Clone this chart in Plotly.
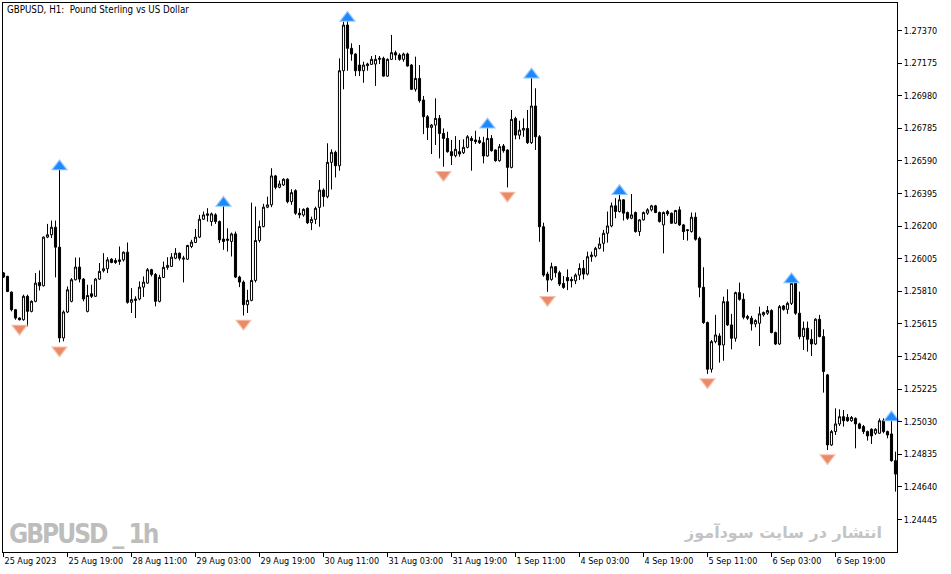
import plotly.graph_objects as go

# ---------------- data (GBPUSD H1) ----------------
open_ = [1.25920,1.25899,1.25805,1.25700,1.25650,1.25640,1.25780,1.25690,1.25750,1.25863,
1.25843,1.26134,1.26148,1.26193,1.26074,1.25531,1.25686,1.25750,1.25879,1.25955,
1.25883,1.25690,1.25795,1.25780,1.25883,1.25933,1.25945,1.26002,1.25994,1.25988,
1.25998,1.26044,1.25744,1.25764,1.25764,1.25835,1.25859,1.25939,1.25911,1.25750,
1.25893,1.25953,1.25959,1.26008,1.26038,1.26002,1.26002,1.26078,1.26102,1.26134,
1.26241,1.26273,1.26227,1.26267,1.26227,1.26122,1.26114,1.26108,1.26153,1.25895,
1.25865,1.25730,1.25756,1.25875,1.26114,1.26197,1.26313,1.26327,1.26500,1.26432,
1.26446,1.26480,1.26346,1.26412,1.26277,1.26266,1.26306,1.26220,1.26240,1.26312,
1.26415,1.26376,1.26581,1.26641,1.26561,1.27129,1.27402,1.27263,1.27229,1.27163,
1.27129,1.27159,1.27167,1.27169,1.27197,1.27203,1.27097,1.27197,1.27237,1.27223,
1.27197,1.27229,1.27163,1.27018,1.27083,1.26954,1.26854,1.26790,1.26804,1.26844,
1.26754,1.26724,1.26645,1.26621,1.26645,1.26639,1.26671,1.26724,1.26715,1.26711,
1.26699,1.26619,1.26724,1.26655,1.26591,1.26679,1.26655,1.26551,1.26844,1.26744,
1.26774,1.26784,1.26699,1.26918,1.26734,1.26196,1.25913,1.25881,1.25957,1.25921,
1.25857,1.25893,1.25881,1.25873,1.25907,1.25947,1.25913,1.26017,1.26021,1.26067,
1.26097,1.26157,1.26201,1.26321,1.26287,1.26357,1.26281,1.26247,1.26281,1.26167,
1.26237,1.26277,1.26297,1.26321,1.26281,1.26207,1.26287,1.26277,1.26217,1.26297,
1.26207,1.26173,1.26167,1.26253,1.26127,1.25834,1.25623,1.25344,1.25509,1.25543,
1.25489,1.25748,1.25609,1.25529,1.25802,1.25762,1.25659,1.25649,1.25615,1.25619,
1.25669,1.25679,1.25695,1.25563,1.25495,1.25722,1.25702,1.25738,1.25862,1.25679,
1.25539,1.25589,1.25523,1.25495,1.25643,1.25539,1.25310,1.24891,1.24971,1.25017,
1.25060,1.25056,1.25036,1.25050,1.25017,1.25001,1.24971,1.24985,1.24961,1.24961,
1.25036,1.24971,1.24957,1.24797]

high = [1.25925,1.25903,1.25809,1.25704,1.25654,1.25790,1.25790,1.25756,1.25919,1.25935,
1.26138,1.26213,1.26233,1.26233,1.26545,1.25696,1.25839,1.25889,1.26012,1.26012,
1.25889,1.25849,1.25849,1.25889,1.25979,1.26038,1.26014,1.26008,1.26008,1.26078,
1.26048,1.26102,1.25829,1.25780,1.25869,1.25899,1.25949,1.25945,1.25919,1.25909,
1.25988,1.26014,1.26038,1.26068,1.26042,1.26022,1.26088,1.26118,1.26183,1.26267,
1.26287,1.26307,1.26281,1.26277,1.26233,1.26326,1.26187,1.26161,1.26167,1.25903,
1.25875,1.25819,1.26340,1.26317,1.26233,1.26333,1.26376,1.26546,1.26506,1.26472,
1.26486,1.26486,1.26420,1.26420,1.26307,1.26306,1.26312,1.26256,1.26316,1.26475,
1.26425,1.26695,1.26659,1.26651,1.27203,1.27423,1.27433,1.27293,1.27233,1.27283,
1.27183,1.27177,1.27217,1.27223,1.27217,1.27213,1.27203,1.27343,1.27249,1.27233,
1.27237,1.27237,1.27169,1.27213,1.27163,1.26978,1.26864,1.26810,1.26964,1.26864,
1.26784,1.26764,1.26715,1.26738,1.26715,1.26719,1.26744,1.26738,1.26770,1.26734,
1.26734,1.26794,1.26744,1.26659,1.26691,1.26691,1.26659,1.26894,1.26854,1.26830,
1.26844,1.26894,1.27093,1.27024,1.26744,1.26220,1.25927,1.25981,1.25961,1.25933,
1.25901,1.25941,1.25897,1.25917,1.25977,1.25997,1.26047,1.26047,1.26076,1.26132,
1.26177,1.26287,1.26341,1.26367,1.26396,1.26361,1.26287,1.26392,1.26287,1.26241,
1.26287,1.26307,1.26327,1.26327,1.26287,1.26287,1.26297,1.26281,1.26297,1.26317,
1.26213,1.26181,1.26281,1.26281,1.26137,1.25954,1.25629,1.25519,1.25669,1.25559,
1.25778,1.25822,1.25675,1.25808,1.25862,1.25798,1.25669,1.25663,1.25643,1.25718,
1.25689,1.25722,1.25703,1.25569,1.25728,1.25728,1.25748,1.25868,1.25868,1.25808,
1.25629,1.25629,1.25583,1.25649,1.25669,1.25583,1.25316,1.24981,1.25110,1.25104,
1.25100,1.25076,1.25064,1.25056,1.25024,1.25011,1.24977,1.24991,1.24991,1.25050,
1.25050,1.24977,1.25044,1.24851]

low = [1.25890,1.25805,1.25690,1.25640,1.25636,1.25634,1.25600,1.25684,1.25744,1.25815,
1.25839,1.26128,1.26128,1.25893,1.25505,1.25511,1.25680,1.25744,1.25875,1.25863,
1.25750,1.25684,1.25770,1.25776,1.25879,1.25923,1.25919,1.25978,1.25974,1.25968,
1.25988,1.25736,1.25680,1.25650,1.25756,1.25776,1.25855,1.25899,1.25720,1.25744,
1.25889,1.25939,1.25955,1.26002,1.25994,1.25863,1.25998,1.26068,1.26098,1.26128,
1.26237,1.26227,1.26201,1.26213,1.26098,1.26058,1.26048,1.26018,1.25889,1.25835,
1.25665,1.25680,1.25750,1.25863,1.26102,1.26193,1.26307,1.26313,1.26420,1.26426,
1.26440,1.26336,1.26327,1.26267,1.26247,1.26256,1.26212,1.26176,1.26212,1.26196,
1.26316,1.26366,1.26419,1.26491,1.26531,1.27018,1.27129,1.27189,1.27097,1.27097,
1.27057,1.27129,1.27163,1.27038,1.27169,1.27093,1.27093,1.27193,1.27193,1.27189,
1.27183,1.27153,1.27014,1.27004,1.26938,1.26750,1.26715,1.26631,1.26685,1.26605,
1.26555,1.26639,1.26565,1.26611,1.26615,1.26631,1.26665,1.26531,1.26691,1.26691,
1.26575,1.26615,1.26645,1.26585,1.26585,1.26639,1.26431,1.26545,1.26719,1.26719,
1.26734,1.26691,1.26691,1.26655,1.26106,1.25897,1.25807,1.25873,1.25893,1.25841,
1.25825,1.25817,1.25833,1.25853,1.25877,1.25881,1.25905,1.25987,1.26013,1.26061,
1.26047,1.26101,1.26193,1.26247,1.26281,1.26233,1.26237,1.26241,1.26161,1.26141,
1.26233,1.26267,1.26287,1.26277,1.26221,1.26037,1.26261,1.26213,1.26213,1.26201,
1.26117,1.26113,1.26161,1.26113,1.25774,1.25615,1.25316,1.25324,1.25499,1.25383,
1.25395,1.25603,1.25463,1.25509,1.25754,1.25643,1.25639,1.25575,1.25595,1.25483,
1.25659,1.25669,1.25559,1.25489,1.25489,1.25694,1.25675,1.25728,1.25669,1.25523,
1.25459,1.25449,1.25423,1.25489,1.25535,1.25204,1.24861,1.24885,1.24951,1.25005,
1.25001,1.25030,1.25030,1.24871,1.24985,1.24957,1.24917,1.24897,1.24951,1.24957,
1.24961,1.24931,1.24791,1.24612]

close = [1.25895,1.25809,1.25700,1.25650,1.25640,1.25780,1.25690,1.25750,1.25859,1.25843,
1.26134,1.26148,1.26193,1.26074,1.25531,1.25686,1.25819,1.25879,1.25955,1.25883,
1.25764,1.25785,1.25780,1.25883,1.25929,1.25945,1.25998,1.25982,1.25982,1.25998,
1.26044,1.25744,1.25760,1.25756,1.25835,1.25865,1.25939,1.25911,1.25750,1.25893,
1.25953,1.25965,1.26014,1.26038,1.26008,1.26008,1.26084,1.26104,1.26134,1.26241,
1.26267,1.26265,1.26273,1.26227,1.26118,1.26108,1.26122,1.26153,1.25895,1.25865,
1.25730,1.25756,1.25875,1.26114,1.26197,1.26313,1.26327,1.26500,1.26432,1.26452,
1.26480,1.26346,1.26400,1.26277,1.26267,1.26300,1.26220,1.26240,1.26306,1.26415,
1.26376,1.26581,1.26641,1.26561,1.27129,1.27402,1.27263,1.27229,1.27129,1.27129,
1.27163,1.27169,1.27197,1.27197,1.27203,1.27097,1.27197,1.27237,1.27223,1.27197,
1.27229,1.27157,1.27018,1.27083,1.26950,1.26854,1.26790,1.26804,1.26844,1.26754,
1.26724,1.26645,1.26621,1.26659,1.26631,1.26671,1.26734,1.26711,1.26705,1.26699,
1.26619,1.26724,1.26651,1.26591,1.26675,1.26651,1.26551,1.26838,1.26744,1.26774,
1.26784,1.26699,1.26918,1.26734,1.26196,1.25907,1.25877,1.25957,1.25921,1.25853,
1.25833,1.25873,1.25873,1.25907,1.25947,1.25913,1.26017,1.26027,1.26067,1.26093,
1.26157,1.26201,1.26321,1.26287,1.26357,1.26277,1.26247,1.26267,1.26167,1.26237,
1.26281,1.26297,1.26321,1.26281,1.26227,1.26281,1.26273,1.26217,1.26293,1.26207,
1.26167,1.26177,1.26253,1.26121,1.25834,1.25623,1.25344,1.25509,1.25549,1.25489,
1.25748,1.25609,1.25529,1.25802,1.25762,1.25655,1.25649,1.25615,1.25635,1.25675,
1.25683,1.25695,1.25563,1.25495,1.25718,1.25702,1.25738,1.25858,1.25679,1.25539,
1.25589,1.25523,1.25495,1.25643,1.25539,1.25330,1.24891,1.24971,1.25017,1.25060,
1.25036,1.25036,1.25056,1.25017,1.24991,1.24971,1.24945,1.24945,1.24985,1.25036,
1.24971,1.24951,1.24797,1.24717]

# fractal signals (bar indices)
fractal_up = [14, 55, 86, 121, 132, 154, 197, 222]
fractal_down = [4, 14, 60, 110, 126, 136, 176, 206]

# axis labels
xtick_bars = [0, 16, 32, 48, 64, 80, 96, 112, 128, 144, 160, 176, 192, 208]
xtick_text = ["25 Aug 2023", "25 Aug 19:00", "28 Aug 11:00", "29 Aug 03:00",
              "29 Aug 19:00", "30 Aug 11:00", "31 Aug 03:00", "31 Aug 19:00",
              "1 Sep 11:00", "4 Sep 03:00", "4 Sep 19:00", "5 Sep 11:00",
              "6 Sep 03:00", "6 Sep 19:00"]
ytick_vals = [1.24445, 1.24640, 1.24835, 1.25030, 1.25225, 1.25420, 1.25615,
              1.25810, 1.26005, 1.26200, 1.26395, 1.26590, 1.26785, 1.26980,
              1.27175, 1.27370]

# ---------------- figure ----------------
bars = list(range(len(close)))
W, H = 951, 574
ml, mr, mt, mb = 3, 54, 3, 22
y_lo, y_hi = 1.24251, 1.27534
px_per_unit = (H - mt - mb) / (y_hi - y_lo)
up_off = 2 / px_per_unit
dn_off = 8 / px_per_unit

fig = go.Figure()
fig.add_trace(go.Candlestick(
    x=bars, open=open_, high=high, low=low, close=close,
    increasing=dict(line=dict(color="black", width=1), fillcolor="white"),
    decreasing=dict(line=dict(color="black", width=1), fillcolor="black"),
    whiskerwidth=0, hoverinfo="skip", showlegend=False))

# fractal arrows: light outer shape + darker core
fig.add_trace(go.Scatter(
    x=fractal_up, y=[high[i] + up_off for i in fractal_up], mode="markers",
    marker=dict(symbol="triangle-up", size=15, color="#8fc6ff",
                line=dict(width=0)),
    hoverinfo="skip", showlegend=False, cliponaxis=False))
fig.add_trace(go.Scatter(
    x=fractal_up, y=[high[i] + up_off for i in fractal_up], mode="markers",
    marker=dict(symbol="triangle-up", size=11, color="#1e88ff",
                line=dict(width=0)),
    hoverinfo="skip", showlegend=False, cliponaxis=False))
fig.add_trace(go.Scatter(
    x=fractal_down, y=[low[i] - dn_off for i in fractal_down], mode="markers",
    marker=dict(symbol="triangle-down", size=15, color="#f6c2ad",
                line=dict(width=0)),
    hoverinfo="skip", showlegend=False, cliponaxis=False))
fig.add_trace(go.Scatter(
    x=fractal_down, y=[low[i] - dn_off for i in fractal_down], mode="markers",
    marker=dict(symbol="triangle-down", size=11, color="#ea8a68",
                line=dict(width=0)),
    hoverinfo="skip", showlegend=False, cliponaxis=False))

fam = "DejaVu Sans Condensed, DejaVu Sans"
fig.update_layout(
    width=W, height=H, margin=dict(l=ml, r=mr, t=mt, b=mb, autoexpand=False),
    paper_bgcolor="white", plot_bgcolor="white", boxgap=0.25,
    xaxis=dict(range=[-0.125, 223.375], rangeslider=dict(visible=False),
               automargin=False, showgrid=False, zeroline=False, showline=True,
               mirror=True, linecolor="black", linewidth=1, ticks="outside",
               ticklen=4, tickcolor="black", tickvals=xtick_bars,
               ticktext=xtick_text, tickangle=0,
               ticklabelposition="outside right",
               tickfont=dict(family=fam, size=9, color="black")),
    yaxis=dict(range=[y_lo, y_hi], side="right", automargin=False,
               showgrid=False, zeroline=False, showline=True, mirror=True,
               linecolor="black", linewidth=1, ticks="outside", ticklen=4,
               tickcolor="black", tickvals=ytick_vals,
               ticktext=[f"{v:.5f}" for v in ytick_vals],
               tickfont=dict(family=fam, size=9, color="black")),
)

fig.add_annotation(text="GBPUSD, H1:  Pound Sterling vs US Dollar",
                   xref="paper", yref="paper", x=0.002, y=0.989,
                   xanchor="left", yanchor="middle", showarrow=False,
                   font=dict(family=fam, size=9.7, color="black"))
fig.add_annotation(text="<b><span style='letter-spacing:-2px'>GBPUSD _ 1h</span></b>",
                   xref="paper", yref="paper",
                   x=0.005, y=0.033, xanchor="left", yanchor="middle",
                   showarrow=False,
                   font=dict(family=fam, size=26, color="#bdbdbd"))
fig.add_annotation(text="<b>انتشار در سایت سودآموز</b>", xref="paper", yref="paper",
                   x=0.985, y=0.037, xanchor="right", yanchor="middle",
                   showarrow=False,
                   font=dict(family="DejaVu Sans", size=16, color="#c4c4c4"))

fig.write_html("out.html", config={"displayModeBar": False},
               post_script="document.body.style.margin='0';document.body.style.padding='0';")
